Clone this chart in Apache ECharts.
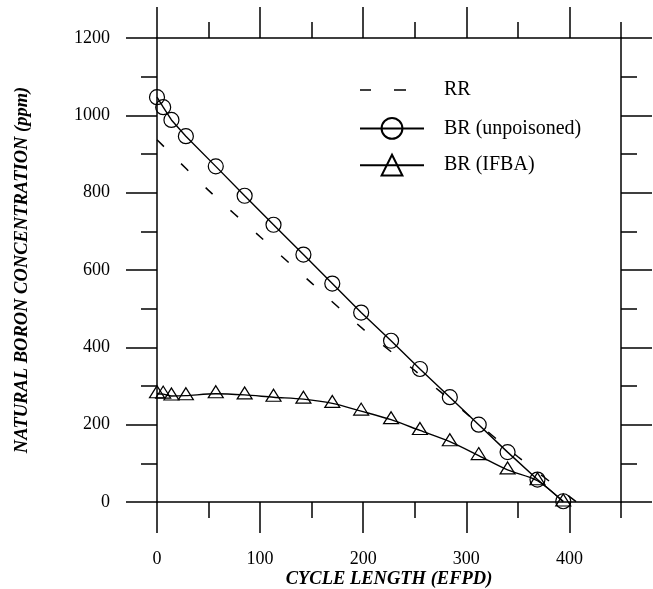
<!DOCTYPE html>
<html>
<head>
<meta charset="utf-8">
<script src="https://cdn.jsdelivr.net/npm/echarts@6/dist/echarts.min.js"></script>
<style>
  html, body { margin: 0; padding: 0; background: #fff; }
  #chart { width: 653px; height: 589px; }
</style>
</head>
<body>
<div id="chart"></div>
<script>
// cycle length (EFPD) of the burnup steps
const cycleDays = [0, 6, 14, 28, 57, 85, 113, 142, 170, 198, 227, 255, 284, 312, 340, 369, 394]
// BR (unpoisoned) boron, ppm
const brUnpoisoned = [1047, 1021, 988, 946, 868, 792, 717, 640, 565, 490, 417, 344, 271, 200, 129, 58, 2]
// BR (IFBA) boron, ppm
const brIfba = [280, 279, 274, 275, 280, 277, 271, 266, 255, 235, 213, 185, 156, 120, 83, 55, 0]
// RR curve
const rrDays = [0, 50, 100, 150, 200, 250, 300, 350, 407]
const rrBoron = [937, 806, 686, 566, 447, 340, 229, 117, 0]

const xTicksMajor = [0, 100, 200, 300, 400]
const seriesNames = ['RR', 'BR (unpoisoned)', 'BR (IFBA)']

const font = 'Liberation Serif, Times New Roman, serif'
const black = '#000'
const axisLine = { show: true, onZero: false, lineStyle: { color: black, width: 1.5 } }
const tickLong = { show: true, inside: false, length: 31, lineStyle: { color: black, width: 1.5 } }
const tickShort = { show: true, inside: false, length: 16, lineStyle: { color: black, width: 1.5 } }

const pairs = (xs, ys) => xs.map((x, i) => [x, ys[i]])
const plain = v => String(v)

// grid 1 only carries the long ticks 0..400, so it is 400/450 as wide
const plotW = 653 - 157 - 32
const tickW = plotW * xTicksMajor[xTicksMajor.length - 1] / 450

const frameX = {
  type: 'value', gridIndex: 0, min: 0, max: 450, interval: 50,
  axisLine, axisTick: tickShort, axisLabel: { show: false }, splitLine: { show: false }
}
const majorX = {
  type: 'value', gridIndex: 1, min: 0, max: 400, interval: 100,
  axisLine: { show: false, onZero: false }, axisTick: tickLong, splitLine: { show: false }
}
const frameY = {
  type: 'value', gridIndex: 0, min: 0, max: 1200, interval: 200,
  axisLine, axisTick: tickLong, splitLine: { show: false },
  minorTick: { show: true, splitNumber: 2, length: 16, lineStyle: { color: black, width: 1.5 } }
}

const option = {
  backgroundColor: '#fff',
  animation: false,
  grid: [
    { left: 157, right: 32, top: 38, bottom: 87, outerBoundsMode: 'none' },
    { left: 157, width: tickW, top: 38, bottom: 87, outerBoundsMode: 'none' }
  ],
  legend: {
    orient: 'vertical',
    left: 359,
    top: 77,
    padding: 0,
    itemWidth: 64,
    itemHeight: 26,
    itemGap: 14,
    data: [
      { name: seriesNames[0], icon: 'path://M0,0M64,26M0,12.25h11v1.5h-11zM34,12.25h12v1.5h-12z' },
      { name: seriesNames[1] },
      { name: seriesNames[2] }
    ],
    textStyle: { fontFamily: font, fontSize: 20, color: black, padding: [0, 0, 0, 15] }
  },
  xAxis: [
    {
      ...frameX, position: 'bottom',
      name: 'CYCLE LENGTH (EFPD)', nameLocation: 'middle', nameGap: 68,
      nameTextStyle: { fontFamily: font, fontSize: 18.5, fontWeight: 'bold', fontStyle: 'italic', color: black }
    },
    { ...frameX, position: 'top' },
    {
      ...majorX, position: 'bottom',
      axisLabel: { show: true, margin: 48, fontFamily: font, fontSize: 18, color: black, formatter: plain }
    },
    { ...majorX, position: 'top', axisLabel: { show: false } }
  ],
  yAxis: [
    {
      ...frameY, position: 'left',
      axisLabel: { show: true, margin: 47, fontFamily: font, fontSize: 18, color: black, formatter: plain },
      name: 'NATURAL BORON CONCENTRATION (ppm)', nameLocation: 'middle', nameGap: 125, nameRotate: 90,
      nameTextStyle: { fontFamily: font, fontSize: 18.5, fontWeight: 'bold', fontStyle: 'italic', color: black }
    },
    { ...frameY, position: 'right', axisLabel: { show: false } },
    { type: 'value', gridIndex: 1, min: 0, max: 1200, show: false }
  ],
  series: [
    {
      name: seriesNames[0],
      type: 'line',
      xAxisIndex: 0, yAxisIndex: 0,
      data: pairs(rrDays, rrBoron),
      smooth: 0.3,
      symbol: 'none',
      clip: false,
      itemStyle: { color: black },
      lineStyle: { color: black, width: 1.5, type: [10, 24] }
    },
    {
      name: seriesNames[1],
      type: 'line',
      xAxisIndex: 0, yAxisIndex: 0,
      data: pairs(cycleDays, brUnpoisoned),
      symbol: 'circle',
      symbolSize: 15,
      clip: false,
      itemStyle: { color: 'rgba(0,0,0,0)', borderColor: black, borderWidth: 1.2 },
      lineStyle: { color: black, width: 1.4 }
    },
    {
      name: seriesNames[2],
      type: 'line',
      xAxisIndex: 0, yAxisIndex: 0,
      data: pairs(cycleDays, brIfba),
      smooth: 0.3,
      symbol: 'triangle',
      symbolSize: [15, 12],
      symbolOffset: [0, -2],
      clip: false,
      itemStyle: { color: 'rgba(0,0,0,0)', borderColor: black, borderWidth: 1.2 },
      lineStyle: { color: black, width: 1.4 }
    }
  ]
}

const myChart = echarts.init(document.getElementById('chart'))
myChart.setOption(option)
</script>
</body>
</html>
